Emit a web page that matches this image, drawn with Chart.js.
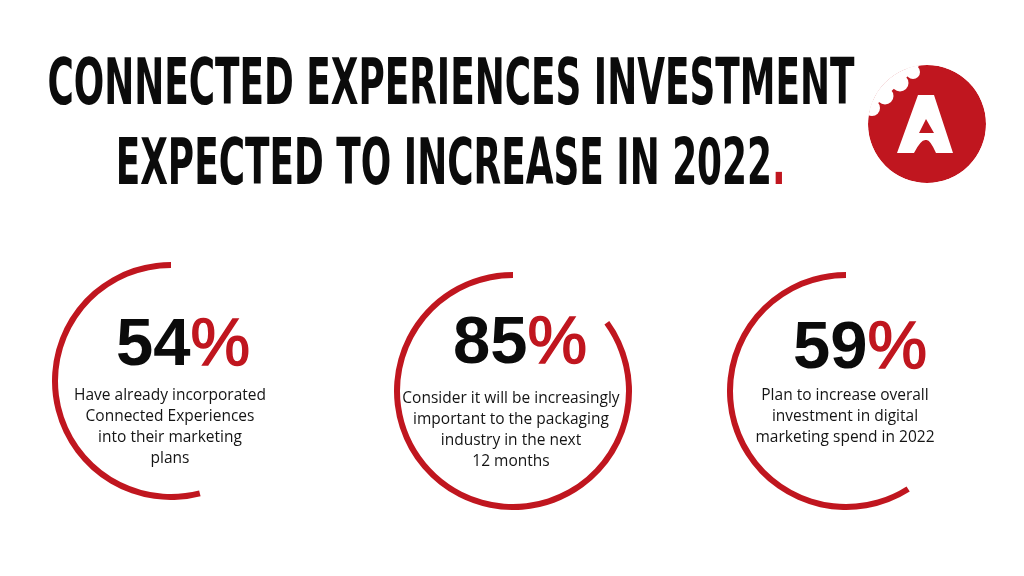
<!DOCTYPE html>
<html lang="en">
<head>
    <meta charset="UTF-8">
    <title>Connected Experiences Investment</title>
    <script src="https://cdn.jsdelivr.net/npm/chart.js"></script>
    <style>
        html, body { margin: 0; padding: 0; background: #ffffff; }
        #page { position: relative; width: 1024px; height: 576px; overflow: hidden; background: #fff; }
        .title { position: absolute; left: -549px; width: 2000px; text-align: center; white-space: nowrap;
                 font-family: "DejaVu Sans Condensed", "DejaVu Sans", sans-serif; font-weight: bold;
                 font-size: 64.5px; line-height: 64.5px; color: #0b0b0b; }
        .title span.inner { display: inline-block; transform-origin: center center; }
        .dot { color: #c0161f; }
        .ring { position: absolute; }
        .pct { position: absolute; width: 300px; text-align: center; white-space: nowrap;
               font-family: "Liberation Sans", Arial, sans-serif; font-size: 67px; line-height: 67px; color: #0b0b0b; }
        .pct b { font-weight: 700; }
        .pct i { font-style: normal; font-weight: 400; color: #c0161f; -webkit-text-stroke: 1.5px #c0161f; }
        .cap { position: absolute; width: 300px; text-align: center;
               font-family: "Open Sans", "Noto Sans", sans-serif; font-size: 15.5px; line-height: 21px; color: #141414; }
    </style>
</head>
<body>
<div id="page">
    <div class="title" style="top:50px;"><span class="inner" id="t1">CONNECTED EXPERIENCES INVESTMENT</span></div>
    <div class="title" style="top:130px;"><span class="inner" id="t2">EXPECTED TO INCREASE IN 2022<span class="dot">.</span></span></div>

    <!-- logo: red disc with a bite taken out of the top-left -->
    <svg style="position:absolute;left:860px;top:60px;" width="135" height="130" viewBox="860 60 135 130">
        <defs>
            <clipPath id="logoClip"><circle cx="927" cy="124" r="59"/></clipPath>
        </defs>
        <g clip-path="url(#logoClip)">
            <circle cx="927" cy="124" r="59" fill="#c0161f"/>
            <polygon fill="#fff" points="866,114 919,66 919,40 840,40 840,114"/>
            <circle cx="872" cy="108" r="8" fill="#fff"/>
            <circle cx="885" cy="96" r="8.5" fill="#fff"/>
            <circle cx="900" cy="83" r="8.5" fill="#fff"/>
            <circle cx="913" cy="72" r="7" fill="#fff"/>
        </g>
        <path fill="#fff" fill-rule="evenodd" d="M918 95 L934 95 L953 153 L936 153 Q930 139 926 140 Q921 139 914 153 L897 153 Z
                             M926 119 L919 133 L934 133 Z"/>
    </svg>

    <div id="panels"></div>
</div>

<script>
    // data
    const values = [54, 85, 59];
    const captions = [
        ['Have already incorporated', 'Connected Experiences', 'into their marketing', 'plans'],
        ['Consider it will be increasingly', 'important to the packaging', 'industry in the next', '12 months'],
        ['Plan to increase overall', 'investment in digital', 'marketing spend in 2022']
    ];
    const red = '#c0161f';

    // layout of each panel: ring centre, ring radius, percent centre/baseline, caption centre/top
    const panels = [
        { cx: 171, cy: 381, r: 119, px: 183, base: 365, tx: 170, ty: 384 },
        { cx: 513, cy: 391, r: 119, px: 520, base: 363, tx: 511, ty: 387 },
        { cx: 846, cy: 391, r: 119, px: 860, base: 368, tx: 845, ty: 384 }
    ];

    // squeeze title lines to their widths
    function fit(id, w) {
        const el = document.getElementById(id);
        const s = w / el.getBoundingClientRect().width;
        el.style.transform = 'scaleX(' + s + ')';
    }
    fit('t1', 807);
    fit('t2', 670);

    const host = document.getElementById('panels');
    values.forEach((v, i) => {
        const p = panels[i];
        const cv = document.createElement('canvas');
        cv.className = 'ring';
        cv.width = p.r * 2;
        cv.height = p.r * 2;
        cv.style.left = (p.cx - p.r) + 'px';
        cv.style.top = (p.cy - p.r) + 'px';
        cv.style.width = (p.r * 2) + 'px';
        cv.style.height = (p.r * 2) + 'px';
        host.appendChild(cv);

        new Chart(cv.getContext('2d'), {
            type: 'doughnut',
            data: {
                labels: ['rest', 'share'],
                datasets: [{
                    data: [100 - v, v],
                    backgroundColor: ['rgba(0,0,0,0)', red],
                    borderWidth: 0,
                    hoverOffset: 0
                }]
            },
            options: {
                responsive: false,
                animation: false,
                events: [],
                cutout: ((p.r - 6) / p.r * 100) + '%',
                layout: { padding: 0 },
                plugins: { legend: { display: false }, tooltip: { enabled: false } }
            }
        });

        const pct = document.createElement('div');
        pct.className = 'pct';
        pct.style.left = (p.px - 150) + 'px';
        pct.style.top = (p.base - 56.7) + 'px';
        pct.innerHTML = '<b>' + v + '</b><i>%</i>';
        host.appendChild(pct);

        const cap = document.createElement('div');
        cap.className = 'cap';
        cap.style.left = (p.tx - 150) + 'px';
        cap.style.top = p.ty + 'px';
        cap.innerHTML = captions[i].join('<br>');
        host.appendChild(cap);
    });
</script>
</body>
</html>
